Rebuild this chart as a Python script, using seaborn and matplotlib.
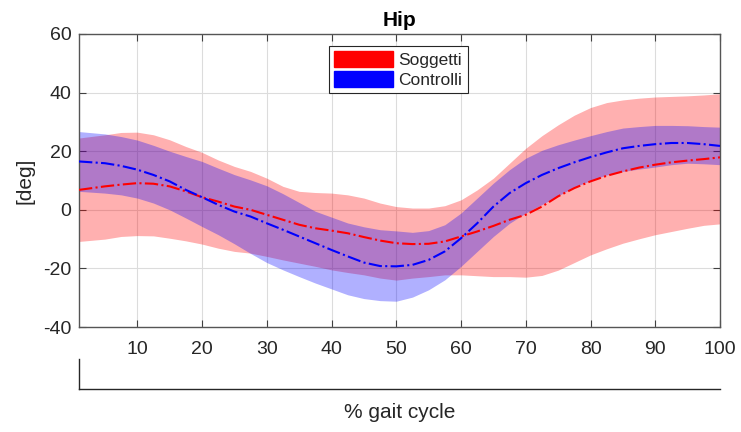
import numpy as np
import pandas as pd
import matplotlib
matplotlib.use("Agg")
import matplotlib.pyplot as plt
import seaborn as sns
from matplotlib.patches import Patch

# ---- data ----
gait = [1, 5, 7.5, 10, 12.5, 15, 17.5, 20, 22.5, 25, 27.5, 30, 32.5, 35, 37.5, 40,
        42.5, 45, 47.5, 50, 52.5, 55, 57.5, 60, 62.5, 65, 67.5, 70, 72.5, 75, 77.5,
        80, 82.5, 85, 87.5, 90, 92.5, 95, 97.5, 100]

sogg_mean = [6.8, 8.0, 8.6, 9.1, 8.9, 8.0, 6.3, 4.3, 2.8, 1.1, 0.0, -1.7, -3.4, -5.1,
             -6.3, -7.1, -8.0, -9.3, -10.5, -11.4, -11.7, -11.6, -10.8, -9.1, -7.4,
             -5.5, -3.4, -1.7, 1.1, 4.6, 7.4, 9.7, 11.6, 13.1, 14.4, 15.4, 16.2,
             16.8, 17.3, 17.9]
sogg_upper = [24.5, 25.6, 26.4, 26.5, 25.6, 23.9, 21.6, 19.6, 17.0, 14.8, 13.1, 10.8,
              8.0, 6.3, 5.9, 5.7, 5.1, 4.0, 2.3, 1.1, 0.6, 0.6, 1.4, 3.4, 6.8, 10.8,
              15.9, 21.0, 25.3, 29.0, 32.3, 34.9, 36.6, 37.5, 38.1, 38.5, 38.7, 38.9,
              39.2, 39.6]
sogg_lower = [-10.8, -10.0, -9.1, -8.8, -8.9, -9.7, -10.6, -11.7, -13.1, -14.2, -14.8,
              -15.9, -17.1, -18.2, -19.3, -20.5, -21.4, -22.2, -23.3, -24.0, -23.3,
              -22.8, -22.2, -22.2, -22.5, -22.8, -22.8, -23.0, -22.4, -20.6, -18.0,
              -15.4, -13.3, -11.4, -9.9, -8.5, -7.4, -6.3, -5.3, -4.8]

ctrl_mean = [16.5, 15.9, 15.0, 13.7, 11.9, 9.7, 6.8, 4.3, 1.7, -0.6, -2.3, -4.6, -6.8,
             -9.1, -11.4, -13.7, -15.9, -18.0, -19.2, -19.3, -18.8, -17.1, -14.2,
             -9.7, -4.6, 1.1, 5.7, 9.1, 11.9, 14.2, 16.2, 18.0, 19.6, 21.0, 21.8,
             22.4, 22.8, 22.8, 22.4, 21.8]
ctrl_upper = [26.7, 25.9, 25.0, 23.8, 22.0, 20.0, 18.2, 16.5, 14.2, 12.0, 10.2, 8.2,
              5.5, 2.5, -0.5, -2.5, -4.5, -5.8, -6.8, -7.2, -7.7, -7.1, -5.1, -1.1,
              4.0, 9.1, 13.7, 17.6, 20.3, 22.2, 23.8, 25.3, 26.7, 27.9, 28.4, 28.8,
              28.8, 28.7, 28.4, 28.2]
ctrl_lower = [6.3, 5.7, 5.1, 4.0, 2.3, 0.0, -2.8, -5.7, -8.5, -11.6, -14.9, -18.0,
              -20.5, -22.8, -25.0, -27.0, -29.0, -30.3, -31.0, -31.2, -29.8, -27.3,
              -23.9, -19.3, -14.2, -9.1, -4.6, -1.1, 1.8, 4.8, 7.7, 10.0, 11.9, 13.1,
              13.9, 14.6, 15.4, 15.9, 15.7, 15.4]

groups = ["Soggetti", "Controlli"]
colors = {"Soggetti": "#ff0000", "Controlli": "#0000ff"}
title = "Hip"
ylabel = "[deg]"
xlabel = "% gait cycle"
xticks = [10, 20, 30, 40, 50, 60, 70, 80, 90, 100]
yticks = [-40, -20, 0, 20, 40, 60]

n = len(gait)
df = pd.DataFrame({
    "gait": gait * 2,
    "value": sogg_mean + ctrl_mean,
    "upper": sogg_upper + ctrl_upper,
    "lower": sogg_lower + ctrl_lower,
    "group": ["Soggetti"] * n + ["Controlli"] * n,
})

sns.set_theme(style="white")
plt.rcParams["font.family"] = ["Liberation Sans", "DejaVu Sans"]
plt.rcParams["axes.unicode_minus"] = False

fig = plt.figure(figsize=(7.41, 4.32), dpi=100)
ax = fig.add_axes([79 / 741, 1 - 327 / 432, 641 / 741, 293 / 432])

# bands
for g in groups:
    sub = df[df["group"] == g]
    ax.fill_between(sub["gait"], sub["lower"], sub["upper"], color=colors[g],
                    alpha=0.31, linewidth=0, zorder=2)

# mean lines
for g in groups:
    sub = df[df["group"] == g]
    sns.lineplot(data=sub, x="gait", y="value", color=colors[g], ax=ax,
                 linestyle="-.", linewidth=1.5, zorder=3, legend=False)

ax.set_xlim(1, 100)
ax.set_ylim(-40, 60)
ax.set_xticks(xticks)
ax.set_yticks(yticks)
ax.grid(True, color="#dcdcdc", linewidth=0.8, zorder=0)
ax.set_axisbelow(True)
ax.tick_params(direction="in", length=5, width=0.8, color="#404040",
               labelsize=14, labelcolor="#262626", top=True, right=True,
               bottom=True, left=True)
ax.tick_params(axis="x", pad=10)
ax.tick_params(axis="y", pad=5.5)
for s in ax.spines.values():
    s.set_color("#555555")
    s.set_linewidth(1.0)
ax.set_xlabel("")
ax.set_ylabel(ylabel, fontsize=15, color="#262626", labelpad=6)
ax.set_title(title, fontsize=15, fontweight="bold", color="#000000", pad=6)

handles = [Patch(facecolor=colors[g], edgecolor=colors[g]) for g in groups]
leg = ax.legend(handles, groups, loc="upper left", bbox_to_anchor=(0.390, 0.959),
                fontsize=12.5, frameon=True, fancybox=False, framealpha=1,
                edgecolor="#262626", handlelength=3.4, handleheight=1.0,
                handletextpad=0.3, borderpad=0.3, labelspacing=0.2,
                borderaxespad=0)
leg.get_frame().set_linewidth(0.8)
for t in leg.get_texts():
    t.set_color("#262626")

# lower auxiliary axis carrying the x label
ax2 = fig.add_axes([79 / 741, 1 - 389 / 432, 641 / 741, 30 / 432])
ax2.set_xticks([])
ax2.set_yticks([])
ax2.set_facecolor("none")
for side in ["top", "right"]:
    ax2.spines[side].set_visible(False)
for side in ["left", "bottom"]:
    ax2.spines[side].set_color("#262626")
    ax2.spines[side].set_linewidth(1.0)
ax2.set_xlabel(xlabel, fontsize=15, color="#262626", labelpad=10)

fig.savefig("out.png", dpi=100, facecolor="white")
